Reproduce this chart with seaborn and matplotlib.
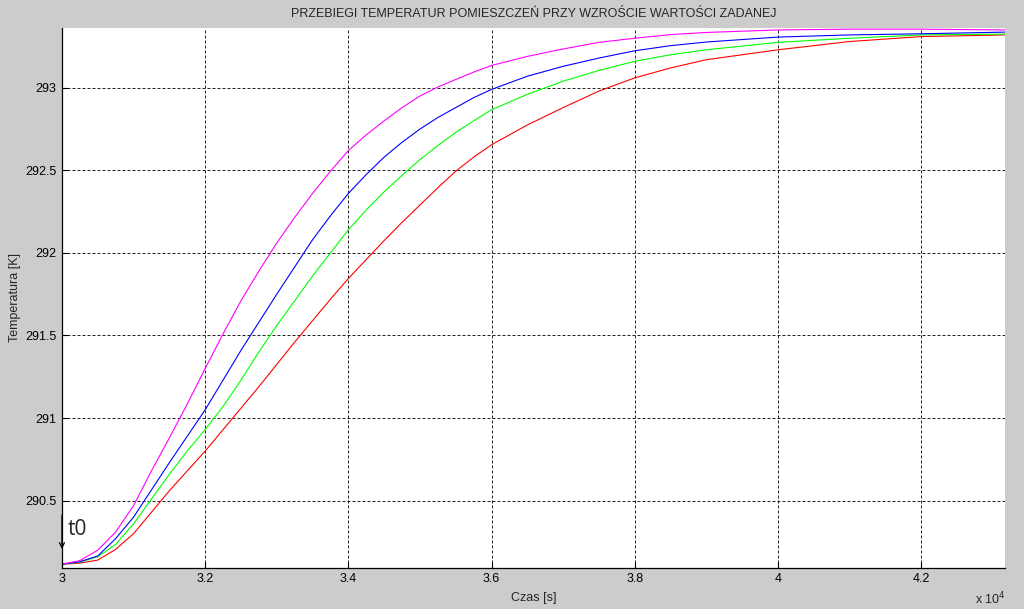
"""
Przebiegi temperatur pomieszczeń przy wzroście wartości zadanej
"""

import numpy as np
import pandas as pd
import matplotlib
matplotlib.use('Agg')
import matplotlib.pyplot as plt
from matplotlib.ticker import FuncFormatter
import seaborn as sns

# ==================== dane ====================
czas = [30000, 30250, 30500, 30750, 31000, 31250, 31500, 31750, 32000,
        32250, 32500, 32750, 33000, 33250, 33500, 33750, 34000, 34250,
        34500, 34750, 35000, 35250, 35500, 35750, 36000, 36500, 37000,
        37500, 38000, 38500, 39000, 40000, 41000, 42000, 43170]

temp_magenta = [290.115, 290.137, 290.20, 290.31, 290.47, 290.68, 290.88, 291.085,
                291.30, 291.51, 291.71, 291.89, 292.06, 292.215, 292.36, 292.495,
                292.62, 292.715, 292.80, 292.88, 292.95, 293.005, 293.05, 293.095,
                293.135, 293.19, 293.235, 293.275, 293.30, 293.322, 293.335,
                293.35, 293.355, 293.355, 293.35]
temp_blue = [290.115, 290.13, 290.165, 290.27, 290.40, 290.565, 290.73, 290.89,
             291.05, 291.23, 291.41, 291.58, 291.75, 291.915, 292.08, 292.225,
             292.36, 292.475, 292.58, 292.67, 292.75, 292.82, 292.88, 292.94,
             292.99, 293.07, 293.13, 293.18, 293.224, 293.255, 293.277,
             293.307, 293.32, 293.327, 293.337]
temp_green = [290.115, 290.128, 290.16, 290.235, 290.36, 290.51, 290.66, 290.80,
              290.93, 291.07, 291.23, 291.40, 291.56, 291.71, 291.86, 292.00,
              292.14, 292.26, 292.37, 292.47, 292.565, 292.65, 292.73, 292.80,
              292.867, 292.96, 293.04, 293.105, 293.16, 293.20, 293.23,
              293.275, 293.30, 293.32, 293.325]
temp_red = [290.115, 290.122, 290.14, 290.205, 290.30, 290.43, 290.56, 290.68,
            290.80, 290.93, 291.06, 291.19, 291.325, 291.46, 291.59, 291.72,
            291.845, 291.96, 292.075, 292.185, 292.29, 292.395, 292.495, 292.58,
            292.655, 292.775, 292.88, 292.98, 293.06, 293.12, 293.17,
            293.23, 293.28, 293.31, 293.32]

serie = {'czerwony': temp_red, 'zielony': temp_green,
         'niebieski': temp_blue, 'magenta': temp_magenta}
kolory = {'czerwony': '#FF0000', 'zielony': '#00FF00',
          'niebieski': '#0000FF', 'magenta': '#FF00FF'}

y_ticks = [290.5, 291, 291.5, 292, 292.5, 293]
x_ticks = [30000, 32000, 34000, 36000, 38000, 40000, 42000]

df = pd.concat([pd.DataFrame({'czas': czas, 'temp': v, 'seria': k})
                for k, v in serie.items()], ignore_index=True)

# ==================== styl ====================
sns.set_style('ticks')
plt.rcParams['font.family'] = ['Liberation Sans', 'DejaVu Sans']
plt.rcParams['font.size'] = 9

fig = plt.figure(figsize=(10.24, 6.09), dpi=100, facecolor='#CCCCCC')
ax = fig.add_axes([0.0605, 0.0681, 0.9209, 0.8854])
ax.set_facecolor('white')

sns.lineplot(data=df, x='czas', y='temp', hue='seria', palette=kolory,
             estimator=None, sort=False, linewidth=0.8, legend=False, ax=ax)

ax.set_xlim(30000, 43170)
ax.set_ylim(290.095, 293.36)
ax.set_xticks(x_ticks)
ax.set_yticks(y_ticks)
ax.xaxis.set_major_formatter(FuncFormatter(lambda v, p: '%g' % (v / 1e4)))
ax.yaxis.set_major_formatter(FuncFormatter(lambda v, p: '%g' % v))

# siatka kropkowana jak w MATLAB
ax.grid(True, color='black', linewidth=0.72, linestyle=(0, (3, 2)), alpha=0.85)
ax.axvline(30000, color='black', linewidth=0.72, linestyle=(0, (3, 2)), alpha=0.85)

for s in ['top', 'right']:
    ax.spines[s].set_visible(False)
for s in ['left', 'bottom']:
    ax.spines[s].set_color('black')
    ax.spines[s].set_linewidth(0.9)
ax.tick_params(direction='in', length=4, width=0.8, colors='black',
               labelsize=9, pad=4)

ax.set_title('PRZEBIEGI TEMPERATUR POMIESZCZEŃ PRZY WZROŚCIE WARTOŚCI ZADANEJ',
             fontsize=9, pad=8)
ax.set_xlabel('Czas [s]', fontsize=9, labelpad=5)
ax.set_ylabel('Temperatura [K]', fontsize=9, labelpad=3)
fig.text(0.952, 0.002, r'x 10$^{4}$', fontsize=9, ha='left', va='bottom')

# znacznik t0
ax.annotate('', xy=(30000, 290.19), xytext=(30000, 290.43),
            arrowprops=dict(arrowstyle='->', color='black', lw=0.9))
ax.text(30080, 290.29, 't0', fontsize=15, ha='left', va='baseline',
        family=['Open Sans', 'DejaVu Sans'])

plt.savefig('out.png', dpi=100, facecolor=fig.get_facecolor())
